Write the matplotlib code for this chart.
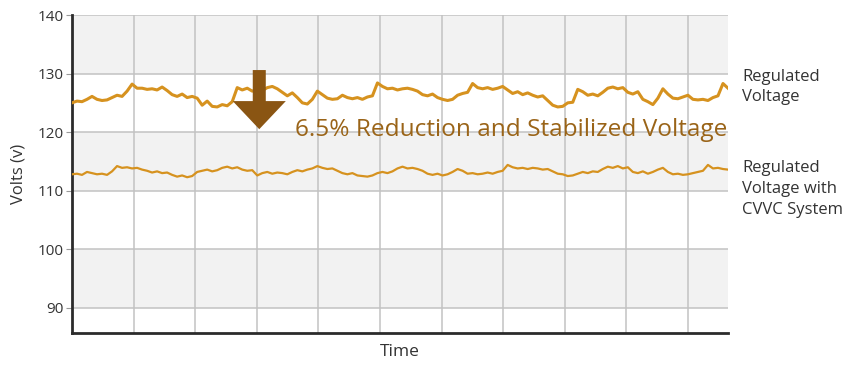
import numpy as np
import matplotlib
matplotlib.use("Agg")
import matplotlib.pyplot as plt
from matplotlib.patches import FancyArrow

plt.rcParams['font.family'] = ['Open Sans', 'DejaVu Sans']

# Voltage readings, one sample per time step
regulated = [
    125.0, 125.3, 125.2, 125.6, 126.1, 125.6, 125.4, 125.5, 125.9, 126.3,
    126.1, 127.0, 128.2, 127.5, 127.5, 127.3, 127.4, 127.2, 127.7, 127.1,
    126.4, 126.1, 126.5, 125.9, 126.1, 125.8, 124.6, 125.3, 124.4, 124.3,
    124.7, 124.5, 125.2, 127.6, 127.2, 127.5, 127.0, 127.3, 127.1, 127.6,
    127.8, 127.4, 126.8, 126.2, 126.7, 125.9, 125.0, 124.8, 125.6, 127.0,
    126.4, 125.8, 125.6, 125.7, 126.3, 125.9, 125.7, 125.9, 125.6, 126.0,
    126.2, 128.4, 127.8, 127.4, 127.5, 127.2, 127.4, 127.5, 127.3, 127.0,
    126.4, 126.2, 126.5, 125.9, 125.6, 125.4, 125.6, 126.3, 126.6, 126.8,
    128.3, 127.6, 127.4, 127.6, 127.3, 127.5, 127.8, 127.2, 126.6, 126.9,
    126.4, 126.7, 126.3, 126.0, 126.2, 125.4, 124.6, 124.3, 124.4, 125.0,
    125.1, 127.3, 126.9, 126.3, 126.5, 126.2, 126.8, 127.5, 127.7, 127.4,
    127.6, 126.8, 126.5, 126.9, 125.6, 125.2, 124.7, 125.8, 127.4, 126.5,
    125.8, 125.7, 126.0, 126.3, 125.6, 125.5, 125.6, 125.4, 125.9, 126.2,
    128.3, 127.5,
]

regulated_cvvc = [
    112.8, 112.9, 112.7, 113.2, 113.0, 112.8, 112.9, 112.7, 113.3, 114.2,
    113.9, 114.0, 113.8, 113.9, 113.6, 113.4, 113.1, 113.3, 113.0, 113.1,
    112.7, 112.4, 112.6, 112.3, 112.5, 113.2, 113.4, 113.6, 113.3, 113.5,
    113.9, 114.1, 113.8, 114.0, 113.6, 113.4, 113.5, 112.6, 113.0, 113.2,
    112.9, 113.1, 113.0, 112.8, 113.2, 113.5, 113.3, 113.6, 113.8, 114.2,
    113.9, 113.7, 113.8, 113.4, 113.0, 112.8, 113.0, 112.6, 112.5, 112.4,
    112.6, 113.0, 113.2, 113.0, 113.3, 113.8, 114.1, 113.8, 113.9, 113.7,
    113.4, 112.9, 112.7, 112.9, 112.6, 112.8, 113.2, 113.7, 113.4, 112.9,
    113.0, 112.8, 112.9, 113.1, 112.9, 113.2, 113.4, 114.4, 114.0, 113.8,
    113.9, 113.7, 113.9, 113.8, 113.6, 113.7, 113.3, 112.9, 112.8, 112.5,
    112.6, 112.9, 113.2, 113.0, 113.3, 113.2, 113.7, 114.1, 113.9, 114.2,
    113.8, 114.0, 113.2, 113.0, 113.3, 112.9, 113.2, 113.6, 113.9, 113.2,
    112.8, 112.9, 112.7, 112.8, 113.0, 113.2, 113.4, 114.4, 113.8, 113.9,
    113.7, 113.6,
]

y_ticks = [90, 100, 110, 120, 130, 140]
series_labels = ["Regulated\nVoltage", "Regulated\nVoltage with\nCVVC System"]
annotation = "6.5% Reduction and Stabilized Voltage"

line_color = "#d6921f"
arrow_color = "#8a5513"
text_color = "#333333"

t = np.arange(len(regulated))
grid_step = 12.3

fig = plt.figure(figsize=(8.6, 3.66), dpi=100)
ax = fig.add_axes([0.0837, 0.0902, 0.7628, 0.8688])

ax.set_xlim(0, len(regulated) - 1)
ax.set_ylim(85.7, 140)

# alternating horizontal bands
for lo in (90, 110, 130):
    ax.axhspan(lo, lo + 10, color="#f2f2f2", zorder=0, lw=0)

for y in y_ticks:
    ax.axhline(y, color="#c2c2c2", lw=1.1, zorder=1)
for x in np.arange(grid_step, len(regulated), grid_step):
    ax.axvline(x, color="#c2c2c2", lw=1.1, zorder=1)

ax.plot(t, regulated, color=line_color, lw=2.2, zorder=3, solid_joinstyle="round")
ax.plot(t, regulated_cvvc, color=line_color, lw=1.6, zorder=3, solid_joinstyle="round")

# downward arrow showing the reduction
arrow = FancyArrow(37.4, 130.6, 0, -10.1, width=2.6, head_width=10.6,
                   head_length=4.8, length_includes_head=True,
                   color=arrow_color, lw=0, zorder=4)
ax.add_patch(arrow)
ax.text(44.6, 120.4, annotation, color="#9a6418", fontsize=17.6,
        ha="left", va="center", zorder=5)

ax.set_yticks(y_ticks)
ax.set_xticks([])
ax.tick_params(axis="y", length=4, width=0.8, color="#999999",
               labelsize=11, labelcolor=text_color, pad=2)
for side in ("top", "right"):
    ax.spines[side].set_visible(False)
for side in ("left", "bottom"):
    ax.spines[side].set_color("#2b2b2b")
    ax.spines[side].set_linewidth(2.0)

ax.set_ylabel("Volts (v)", fontsize=12, color=text_color, labelpad=8)
ax.set_xlabel("Time", fontsize=12.5, color=text_color, labelpad=8)

fig.text(742 / 860, 1 - 87 / 366, series_labels[0], fontsize=12,
         color=text_color, ha="left", va="center", linespacing=1.4)
fig.text(742 / 860, 1 - 189 / 366, series_labels[1], fontsize=12,
         color=text_color, ha="left", va="center", linespacing=1.4)

fig.savefig("out.png", dpi=100)
